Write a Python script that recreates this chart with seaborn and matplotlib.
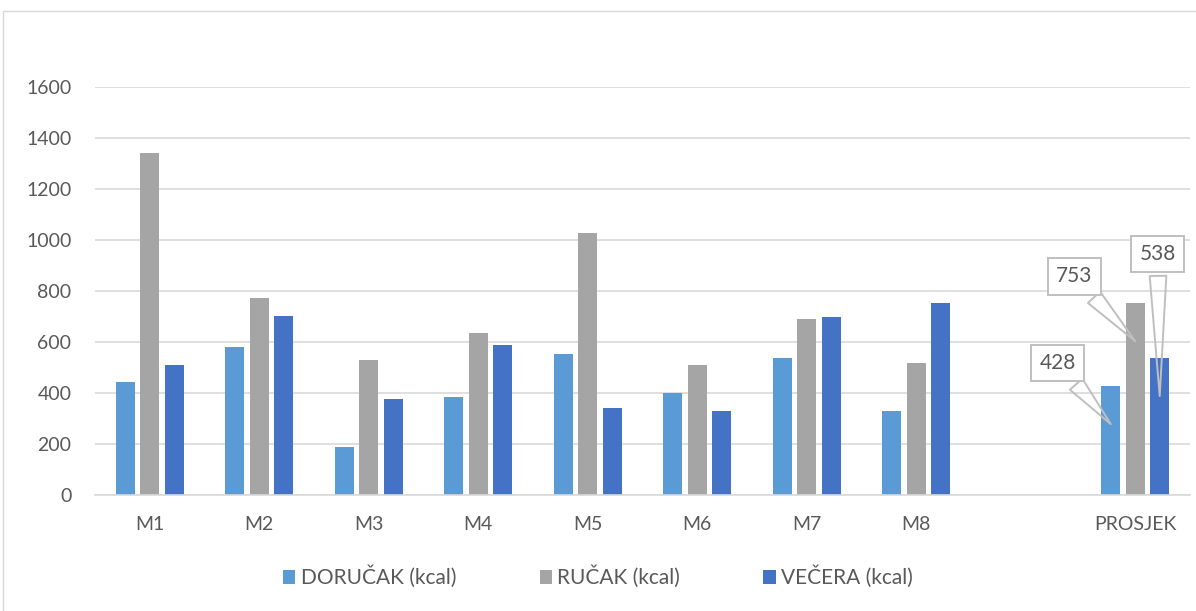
import pandas as pd
import numpy as np
import matplotlib
matplotlib.use('Agg')
import matplotlib.pyplot as plt
from matplotlib.patches import Rectangle
import seaborn as sns

# Data
categories = ['M1', 'M2', 'M3', 'M4', 'M5', 'M6', 'M7', 'M8', 'PROSJEK']
dorucak = [442, 582, 188, 386, 553, 400, 539, 328, 428]
rucak = [1340, 771, 528, 635, 1029, 508, 690, 516, 753]
vecera = [510, 703, 378, 587, 342, 331, 697, 754, 538]
series = ['DORUČAK (kcal)', 'RUČAK (kcal)', 'VEČERA (kcal)']
colors = ['#5B9BD5', '#A5A5A5', '#4472C4']

# empty slot between M8 and PROSJEK
order = categories[:-1] + [' '] + categories[-1:]

df = pd.DataFrame({'kat': categories * 3,
                   'serija': np.repeat(series, len(categories)),
                   'kcal': dorucak + rucak + vecera})

sns.set_theme(style='white')
plt.rcParams['font.family'] = ['Lato', 'DejaVu Sans']
txt = '#595959'

fig = plt.figure(figsize=(11.96, 6.11), dpi=100)
ax = fig.add_axes([95 / 1196, 1 - 495 / 611, 1095 / 1196, 408 / 611])

sns.barplot(data=df, x='kat', y='kcal', hue='serija', order=order,
            hue_order=series, palette=dict(zip(series, colors)), saturation=1,
            errorbar=None, width=0.67, gap=0.22, edgecolor='none', ax=ax)

ax.set_ylim(0, 1600)
ax.set_yticks(range(0, 1601, 200))
ax.yaxis.grid(True, color='#D9D9D9', lw=1.2)
ax.set_axisbelow(True)
for s in ['top', 'right', 'left']:
    ax.spines[s].set_visible(False)
ax.spines['bottom'].set_color('#D9D9D9')
ax.spines['bottom'].set_linewidth(1.2)
ax.tick_params(axis='y', length=0, pad=17, labelsize=14, labelcolor=txt)
ax.tick_params(axis='x', length=0, pad=15, labelsize=14, labelcolor=txt)
ax.set_xlabel('')
ax.set_ylabel('')

# callout labels for the average group
offsets = [(-53, 61), (-61, 65), (-2, 142)]
for i, (vals, off) in enumerate(zip([dorucak, rucak, vecera], offsets)):
    bar = ax.containers[i][-1]
    xc = bar.get_x() + bar.get_width() / 2
    ax.annotate(str(vals[-1]), xy=(xc, vals[-1] - 150), xytext=off,
                textcoords='offset pixels', ha='center', va='center',
                fontsize=15, color=txt,
                bbox=dict(boxstyle='square,pad=0.4', fc='white', ec='#BFBFBF', lw=1.4),
                arrowprops=dict(arrowstyle='wedge,tail_width=0.8', fc='none',
                                ec='#BFBFBF', lw=1.4, shrinkB=0))

fig.legend(*ax.get_legend_handles_labels(), loc='center', bbox_to_anchor=(0.5, 1 - 577 / 611),
           ncol=3, frameon=False, fontsize=15, labelcolor=txt, handlelength=0.6,
           handleheight=0.6, handletextpad=0.25, columnspacing=4.0)
ax.get_legend().remove()

# chart frame
fig.add_artist(Rectangle((3 / 1196, -0.1), 1.2, 1.1 - 11 / 611, transform=fig.transFigure,
                         fill=False, ec='#D9D9D9', lw=1))

fig.savefig('out.png', dpi=100)
